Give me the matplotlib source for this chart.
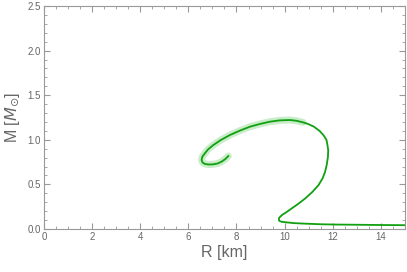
import matplotlib
matplotlib.use("Agg")
import matplotlib.pyplot as plt
from matplotlib.ticker import MultipleLocator

# mass-radius curve, from low-mass end to spiral end
R_km = [15.0, 14.0, 13.0, 12.16, 11.55, 10.86, 10.4, 10.1, 9.9, 9.8, 9.76,
        9.77, 9.89, 10.08, 10.3, 10.58, 10.86, 11.15, 11.41, 11.58, 11.68,
        11.75, 11.8, 11.81, 11.78, 11.74, 11.62, 11.45, 11.2, 10.95, 10.77,
        10.5, 10.22, 9.8, 9.39, 8.98, 8.56, 8.14, 7.73, 7.35, 7.03, 6.82,
        6.69, 6.58, 6.55, 6.59, 6.69, 6.85, 7.03, 7.22, 7.38, 7.53, 7.66]
M_sun = [0.043, 0.045, 0.048, 0.05, 0.053, 0.06, 0.066, 0.074, 0.08, 0.088, 0.1,
         0.125, 0.157, 0.19, 0.232, 0.285, 0.344, 0.415, 0.493, 0.57, 0.64,
         0.72, 0.81, 0.886, 0.94, 0.998, 1.05, 1.1, 1.15, 1.18, 1.195,
         1.213, 1.222, 1.218, 1.203, 1.178, 1.147, 1.103, 1.054, 0.998, 0.94, 0.893,
         0.85, 0.81, 0.774, 0.745, 0.729, 0.723, 0.725, 0.735, 0.755, 0.783, 0.818]
glow_start = 30  # unstable branch drawn with a pale halo

gray = "#666666"
plt.rcParams["font.family"] = ["Liberation Sans", "DejaVu Sans"]
plt.rcParams["mathtext.fontset"] = "dejavusans"

fig = plt.figure(figsize=(4.07, 2.72), dpi=100)
ax = fig.add_axes([0.108, 0.158, 0.887, 0.82])

ax.plot(R_km[glow_start:], M_sun[glow_start:], color="#c9ecc9", lw=5,
        solid_capstyle="round", solid_joinstyle="round", zorder=2)
ax.plot(R_km, M_sun, color="#10a010", lw=1.3, solid_joinstyle="round", zorder=3)

ax.set_xlim(0, 15)
ax.set_ylim(0, 2.5)
ax.xaxis.set_major_locator(MultipleLocator(2))
ax.xaxis.set_minor_locator(MultipleLocator(0.5))
ax.yaxis.set_major_locator(MultipleLocator(0.5))
ax.yaxis.set_minor_locator(MultipleLocator(0.1))
ax.yaxis.set_major_formatter(lambda v, p: f"{v:.1f}")
ax.tick_params(which="both", direction="in", top=True, right=True,
               colors="#999999", labelcolor=gray, labelsize=7, pad=2)
ax.tick_params(which="major", length=4, width=0.8)
ax.tick_params(which="minor", length=2, width=0.6)
for s in ax.spines.values():
    s.set_color("#999999")
    s.set_linewidth(0.8)

ax.set_xlabel("R [km]", fontsize=11.5, color=gray, labelpad=2)
ax.set_ylabel(r"M [$M_{\odot}$]", fontsize=11.5, color=gray, labelpad=4)

fig.savefig("out.png", dpi=100)
